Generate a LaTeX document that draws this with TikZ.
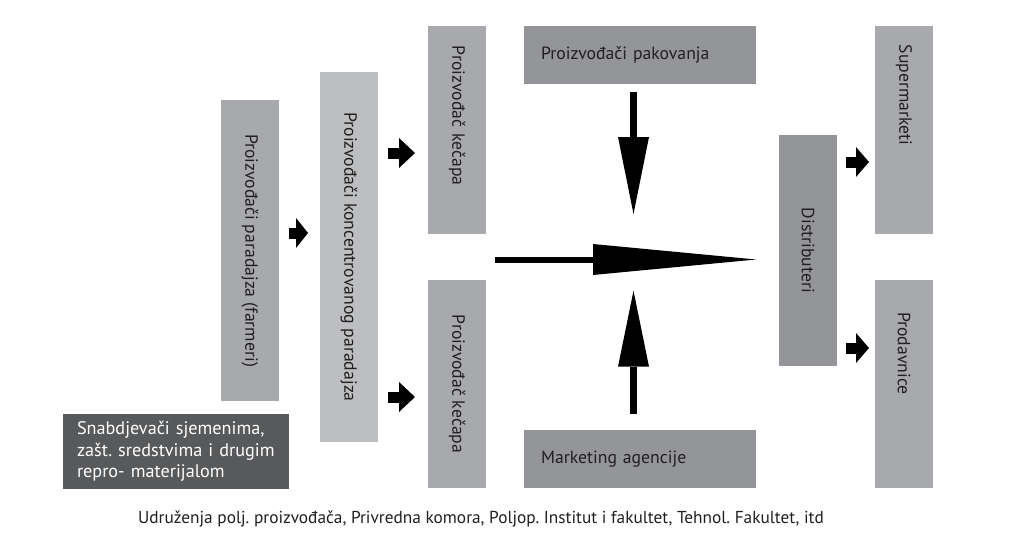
\documentclass[tikz,border=0pt]{standalone}
\usepackage{fontspec}
\setmainfont{PT Sans}
\usetikzlibrary{arrows.meta}
\frenchspacing

% Process greys
\definecolor{gThirty}{HTML}{BCBEC0}
\definecolor{gForty}{HTML}{A7A9AC}
\definecolor{gFifty}{HTML}{939598}
\definecolor{gEighty}{HTML}{58595B}
\definecolor{ink}{HTML}{231F20}

\newcommand\lblfont{\fontsize{17.7}{21.5}\selectfont}
\newcommand\supfont{\fontsize{18.2}{21.5}\selectfont}
\newcommand\footfont{\fontsize{17.3}{19}\selectfont}

\tikzset{
  box/.style={rectangle, inner sep=0pt, font=\lblfont, text=ink},
  vbox/.style={box, rotate=-90},
  hbox/.style={box, minimum width=232pt, minimum height=58pt,
               inner xsep=17pt, text width=198pt, align=left},
  smallarrow/.style={draw=black, line width=11pt,
    -{Triangle[length=16pt 0 0, width=30pt 0 0, line width=0pt 0 0]}},
  bigarrow/.style={draw=black, line width=6.5pt,
    -{Triangle[length=#1 0 0, width=31pt 0 0, line width=0pt 0 0]}},
}

\begin{document}
\begin{tikzpicture}[x=1pt, y=-1pt]
\path[use as bounding box, fill=white] (0,0) rectangle (1028,551);

% supply chain stages
\node[vbox, fill=gForty, minimum width=301pt, minimum height=58pt]
  (farm) at (250,250.5) {Proizvođači paradajza (farmeri)};
\node[vbox, fill=gThirty, minimum width=370pt, minimum height=58pt]
  (conc) at (349,257) {Proizvođači koncentrovanog paradajza};
\node[vbox, fill=gForty, minimum width=208pt, minimum height=58pt,
      inner xsep=20pt, text width=168pt, align=left]
  (ketchupA) at (457,130) {Proizvođač kečapa};
\node[vbox, fill=gForty, minimum width=208pt, minimum height=58pt]
  (ketchupB) at (457,384) {Proizvođač kečapa};
\node[hbox, fill=gFifty] (pack) at (640,55) {Proizvođači pakovanja};
\node[hbox, fill=gFifty] (mkt) at (640,459) {Marketing agencije};
\node[vbox, fill=gFifty, minimum width=231pt, minimum height=58pt]
  (dist) at (808,250.5) {Distributeri};
\node[vbox, fill=gForty, minimum width=208pt, minimum height=58pt,
      inner xsep=19pt, text width=170pt, align=left]
  (super) at (904,130) {Supermarketi};
\node[vbox, fill=gForty, minimum width=208pt, minimum height=58pt,
      inner xsep=32pt, text width=144pt, align=left]
  (shops) at (904,384) {Prodavnice};
\node[box, fill=gEighty, text=white, font=\supfont, minimum width=226pt,
      minimum height=75pt, inner xsep=14pt, text width=198pt, align=left]
  (supply) at (176,451.5) {Snabdjevači sjemenima,\\zašt.~sredstvima~i~drugim\\repro- materijalom};

\node[font=\footfont, text=ink, inner sep=0pt] (assoc) at (481,519)
  {Udruženja polj. proizvođača, Privredna komora, Poljop. Institut i fakultet, Tehnol. Fakultet, itd};

% small block arrows between stages
\coordinate (fA) at (288.5,233);  \coordinate (fB) at (308,233);
\coordinate (kA1) at (388,153);   \coordinate (kB1) at (415,153);
\coordinate (kA2) at (388,397);   \coordinate (kB2) at (415,397);
\coordinate (dA1) at (846,162);   \coordinate (dB1) at (869,162);
\coordinate (dA2) at (846,348);   \coordinate (dB2) at (869,348);
\draw[smallarrow, -{Triangle[length=12pt 0 0, width=30pt 0 0, line width=0pt 0 0]}] (fA) -- (fB);
\draw[smallarrow] (kA1) -- (kB1);
\draw[smallarrow] (kA2) -- (kB2);
\draw[smallarrow, -{Triangle[length=13pt 0 0, width=30pt 0 0, line width=0pt 0 0]}] (dA1) -- (dB1);
\draw[smallarrow, -{Triangle[length=13pt 0 0, width=30pt 0 0, line width=0pt 0 0]}] (dA2) -- (dB2);

% large arrows into the distribution stage
\coordinate (packTail) at (633.5,91.7);  \coordinate (packTip) at (633.5,214);
\coordinate (mktTail) at (633.5,414);    \coordinate (mktTip) at (633.5,290.7);
\coordinate (mainTail) at (495,259.5);   \coordinate (mainTip) at (756,259.5);
\draw[bigarrow=77pt] (packTail) -- (packTip);
\draw[bigarrow=76pt] (mktTail) -- (mktTip);
\draw[bigarrow=163pt, line width=6pt] (mainTail) -- (mainTip);
\end{tikzpicture}
\end{document}
